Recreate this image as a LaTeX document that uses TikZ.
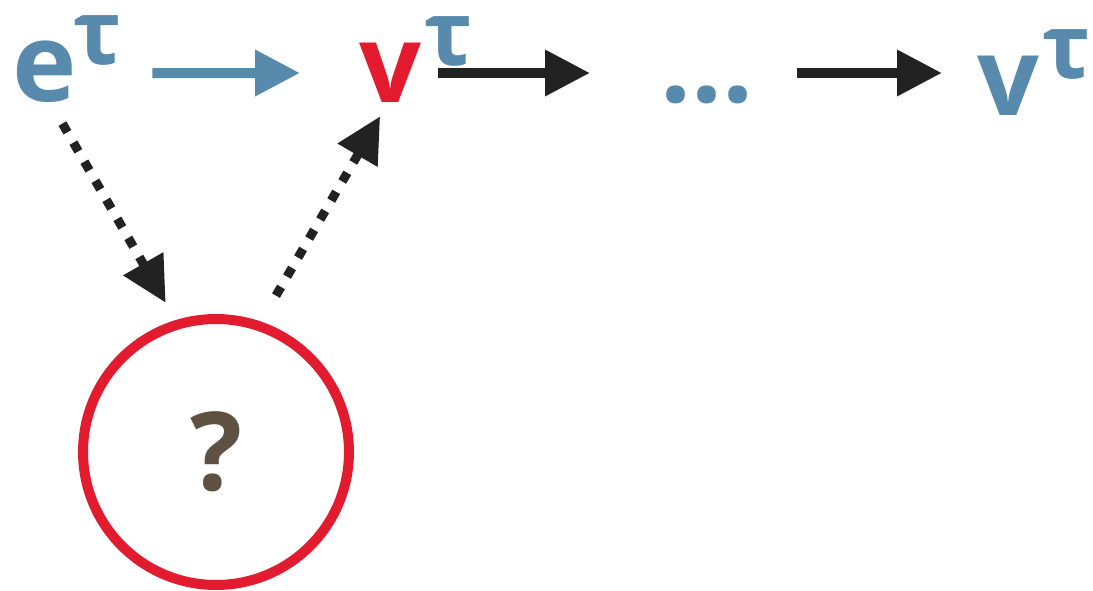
\documentclass[tikz,border=0pt]{standalone}
\usepackage{fontspec}
\setsansfont{Open Sans}
\usepackage{tikz}
\usetikzlibrary{arrows.meta, positioning, calc}
\definecolor{tokenblue}{HTML}{578AAC}
\definecolor{pathred}{HTML}{E31B2E}
\definecolor{arrowink}{HTML}{222222}
\definecolor{querybrown}{HTML}{5F5142}
\newcommand{\tauup}{\raisebox{0.75cm}{\fontsize{51}{51}\selectfont τ}}

\begin{document}
\begin{tikzpicture}[x=0.02cm, y=-0.02cm,
    font=\sffamily\bfseries\fontsize{62}{62}\selectfont,
    sym/.style={inner sep=0pt, anchor=base west, text height=1.2cm, text depth=0pt},
    tip/.style={-{Triangle[length=0.9cm, width=0.88cm]}},
    flow/.style={tip, line width=0.2cm},
    guess/.style={tip, arrowink, line width=0.18cm, dash pattern=on 0.2cm off 0.24cm}]
  \useasboundingbox (0,0) rectangle (1093,591);

  % Top row
  \node[sym, text height=1.16cm, tokenblue] (e) at (12,102) {e\kern-0.06cm\tauup};
  \node[sym, pathred] (v1) at (359,103) {v\kern0.06cm\textcolor{tokenblue}{\tauup}};
  \node[sym, tokenblue] (dots) at (660,103) {...};
  \node[sym, tokenblue] (v2) at (977,116) {v\kern0.06cm\tauup};

  % Unknown step
  \node[circle, draw=pathred, line width=0.2cm, minimum size=5.32cm, inner sep=0pt,
    text=querybrown] (q) at (216,452) {?};

  % Connections
  \draw[flow, tokenblue, shorten <=0.6cm, shorten >=1.18cm] (e.east) -- (v1.west);
  \draw[flow, arrowink, shorten <=-0.7cm, shorten >=1.4cm] (v1.east) -- (dots.west);
  \draw[flow, arrowink, shorten <=0.86cm, shorten >=0.7cm] (dots.east) -- (dots.east -| v2.west);
  \draw[guess, shorten <=0.49cm, shorten >=0.4cm] (e.240) -- (q.107);
  \draw[guess, shorten <=0.6cm, shorten >=0.3cm] (q.71.5) -- (v1.227);
\end{tikzpicture}
\end{document}
